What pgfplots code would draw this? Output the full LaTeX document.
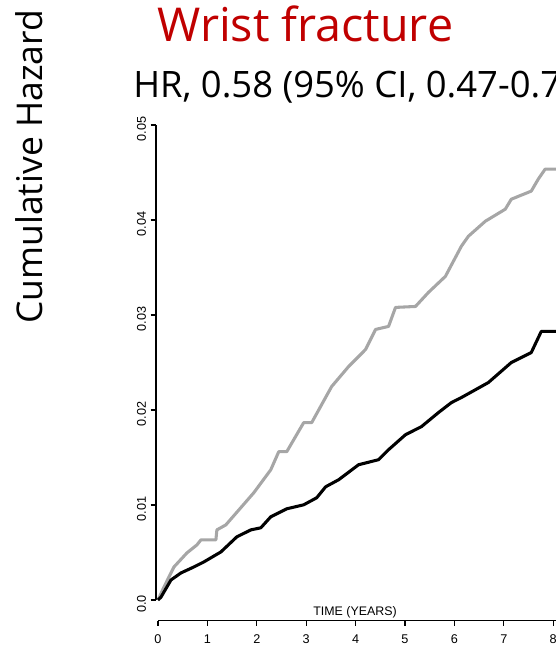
\documentclass[border=0pt]{standalone}
\usepackage{pgfplots}
\pgfplotsset{compat=1.18}
\usepackage{fontspec}
\setmainfont{Open Sans}
\newfontfamily\rfont{Liberation Sans}
\definecolor{titlered}{HTML}{C00000}
\definecolor{curvegray}{HTML}{A6A6A6}
\begin{document}
\begin{tikzpicture}[x=0.75pt,y=-0.75pt]
\path[use as bounding box] (0,0) rectangle (556,646);
\clip (0,0) rectangle (556,646);
\node[rotate=90,anchor=base,inner sep=0pt,font=\fontsize{26.6}{30}\selectfont] at (42,167) {Cumulative Hazard};
\node[anchor=base west,inner sep=0pt,text=titlered,font=\fontsize{35}{40}\selectfont] at (157,41) {Wrist fracture};
\node[anchor=base west,inner sep=0pt,font=\fontsize{27.3}{30}\selectfont] at (133,97) {HR, 0.58 (95\% CI, 0.47-0.72)};
\node[anchor=base,inner sep=0pt,font=\rfont\fontsize{9.3}{10}\selectfont] at (355,615) {TIME (YEARS)};
\begin{axis}[
  x=37.05pt, y=7125pt,
  anchor=origin, at={(118.5pt,-450pt)},
  xmin=0, xmax=8.1, ymin=0, ymax=0.05,
  clip=false,
  scaled y ticks=false, scaled x ticks=false,
  axis x line*=bottom, axis y line*=left,
  axis x line shift=15.4pt, axis y line shift=1.5pt,
  axis line style={line width=1.1pt, -},
  tick align=outside,
  xtick={0,1,2,3,4,5,6,7,8},
  ytick={0,0.01,0.02,0.03,0.04,0.05},
  yticklabels={0.0,0.01,0.02,0.03,0.04,0.05},
  xticklabels={0,1,2,3,4,5,6,7,8},
  major tick length=4pt,
  every tick/.style={black, line width=1pt},
  /pgf/number format/assume math mode=true,
  tick label style={font=\rfont\fontsize{9.5}{10}\selectfont},
  yticklabel style={rotate=90, anchor=south, xshift=-3pt},
  xticklabel style={yshift=-3pt},
]
\addplot[curvegray, line width=2.3pt, line join=round] coordinates {
(0,0) (0.121,0.00137) (0.323,0.00348) (0.586,0.00496) (0.788,0.0058)
(0.869,0.00633) (1.172,0.00633) (1.192,0.00738) (1.374,0.00791)
(1.939,0.01129) (2.283,0.01371) (2.444,0.01561) (2.606,0.01561)
(2.949,0.01867) (3.111,0.01867) (3.515,0.02247) (3.859,0.02458)
(4.202,0.02637) (4.404,0.02848) (4.667,0.0288) (4.808,0.0308)
(5.212,0.0309) (5.475,0.03238) (5.818,0.03407) (6.141,0.03724)
(6.283,0.03829) (6.626,0.03987) (7.030,0.04114) (7.152,0.04219)
(7.556,0.04304) (7.697,0.0443) (7.838,0.04536) (8.1,0.04536)
};
\addplot[black, line width=2.3pt, line join=round] coordinates {
(0,0) (0.06,0.0003) (0.263,0.00211) (0.465,0.00285) (0.727,0.00348)
(0.929,0.00401) (1.273,0.00506) (1.596,0.00665) (1.879,0.00738)
(2.081,0.0076) (2.283,0.00876) (2.606,0.0096) (2.949,0.01002)
(3.212,0.01076) (3.394,0.01192) (3.657,0.01266) (4.061,0.01424)
(4.465,0.01477) (4.667,0.01582) (5.01,0.0174) (5.333,0.01825)
(5.677,0.01973) (5.939,0.02078) (6.141,0.02131) (6.687,0.02289)
(7.152,0.025) (7.556,0.02605) (7.758,0.02827) (8.1,0.02827)
};
\end{axis}
\end{tikzpicture}
\end{document}
